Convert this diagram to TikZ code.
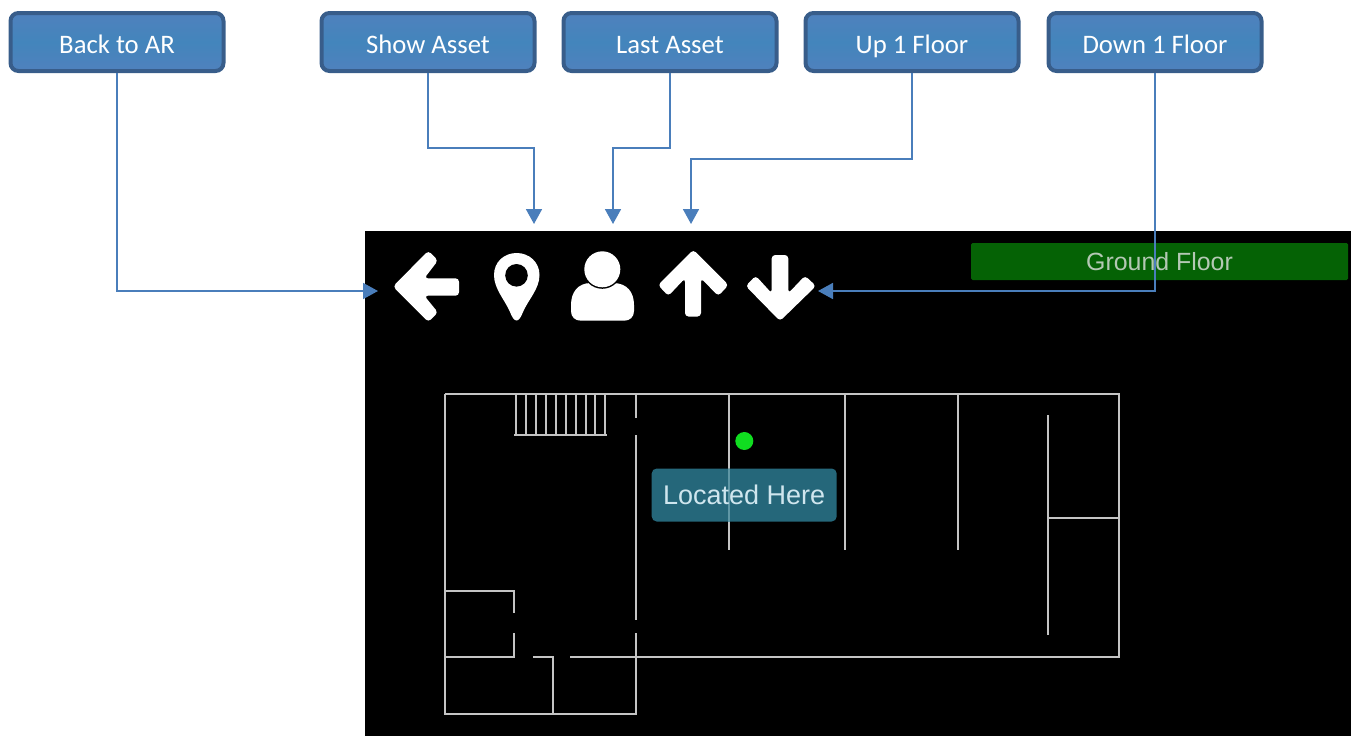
\documentclass[tikz,border=0pt]{standalone}
\usepackage{fontspec}
\setmainfont{Carlito}
\newfontfamily\arialish{Liberation Sans}
\usetikzlibrary{arrows.meta}
\definecolor{btnborder}{HTML}{385D8A}
\definecolor{btnedge}{HTML}{4F81BD}
\definecolor{btnmid}{HTML}{4385BC}
\definecolor{connblue}{HTML}{4A7EBB}
\definecolor{walls}{HTML}{C4C4C4}
\definecolor{floorgreen}{HTML}{056205}
\definecolor{floortext}{HTML}{B4C8B4}
\definecolor{teal}{HTML}{25677A}
\definecolor{tealwall}{HTML}{5F97A6}
\definecolor{teallabel}{HTML}{CFE6EE}
\definecolor{dot}{HTML}{10DD20}
\tikzset{
  btn/.style={draw=btnborder,line width=4pt,rounded corners=8pt,top color=btnedge,bottom color=btnedge,middle color=btnmid,
    minimum width=213pt,minimum height=58pt,inner sep=0pt,text=white,text height=24pt,text depth=2pt,font=\fontsize{26.7}{30}\selectfont},
  conn/.style={draw=connblue,line width=1.8pt,-{Triangle[length=15pt,width=16pt]}},
  wall/.style={draw=walls,line width=1.9pt},
  icon/.style={fill=white,rounded corners=3.5pt},
}
\begin{document}
\begin{tikzpicture}[x=1pt,y=-1pt]
\useasboundingbox (0,0) rectangle (1351,736);
% screenshot
\fill[black] (365,231) rectangle (1351,736);
\node[fill=floorgreen,rounded corners=1.5pt,minimum width=377pt,minimum height=37pt,inner sep=0pt,text=floortext,font=\arialish\fontsize{24.9}{28}\selectfont] (floor) at (1159.5,261.5) {Ground Floor};
% icons
\fill[icon] (393,286.5) -- (428.3,250.7) -- (438,260.5) -- (424.3,278.3) -- (459,278.3) -- (459,295.7) -- (424.3,295.7) -- (438,312.5) -- (428.3,322) -- cycle;
\fill[white] (516.7,320.5) .. controls (514,320.5) and (512,317) .. (510,312) .. controls (505,300) and (494,289) .. (494,275) .. controls (494,262) and (504,253) .. (516.7,253) .. controls (529,253) and (539.5,262) .. (539.5,275) .. controls (539.5,289) and (528,300) .. (523,312) .. controls (521,317) and (519,320.5) .. (516.7,320.5) -- cycle;
\fill[black] (516.5,275.3) circle[radius=11.3pt];
\fill[white] (581,320.7) .. controls (575,320.7) and (571,317) .. (571,311) -- (571,305) .. controls (571,292) and (578,283.5) .. (590,283) -- (614,283) .. controls (627,283.5) and (634,292) .. (634,305) -- (634,311) .. controls (634,317) and (630,320.7) .. (624,320.7) -- cycle;
\fill[black] (602.3,269.3) circle[radius=19.5pt];
\fill[white] (602.3,269.3) circle[radius=18pt];
\fill[icon] (693.3,249.7) -- (728.5,285) -- (718.3,296) -- (701,278.3) -- (701,316.5) -- (685,316.5) -- (685,278.3) -- (668.3,296) -- (658,285) -- cycle;
\fill[icon] (780,321) -- (745.7,286) -- (755.7,275.7) -- (771.7,293.3) -- (771.7,255) -- (788.3,255) -- (788.3,293.3) -- (805,275.7) -- (816,286) -- cycle;
% floor plan
\draw[wall] (1119,518) -- (1048,518);
\draw[wall] (445,394) -- (1119,394) -- (1119,657) -- (570,657);
\draw[wall] (445,394) -- (445,714) -- (636,714) -- (636,633);
\draw[wall] (445,657) -- (514,657) -- (514,633);
\draw[wall] (445,591) -- (514,591) -- (514,613);
\draw[wall] (533,657) -- (553,657) -- (553,714);
\draw[wall] (636,394) -- (636,418);
\draw[wall] (636,435) -- (636,620);
\draw[wall] (514,435) -- (607,435);
\foreach \sx in {516,526,536,546,556,566,576,586,595,605}
  \draw[wall] (\sx,394) -- (\sx,435);
\draw[wall] (729,394) -- (729,550);
\draw[wall] (845,394) -- (845,550);
\draw[wall] (958,394) -- (958,550);
\draw[wall] (1048,415) -- (1048,635);
\fill[dot] (744.3,441) circle[radius=9pt];
\node[fill=teal,rounded corners=5pt,minimum width=185pt,minimum height=53pt,inner sep=0pt] (here) at (744.2,495) {};
\draw[tealwall,line width=1.9pt] (729,468.5) -- (729,521.5);
\node[text=teallabel,inner sep=0pt,font=\arialish\fontsize{27}{30}\selectfont] (herelabel) at (744.2,495) {Located Here};
% buttons
\node[btn] (back) at (117,42) {Back to AR};
\node[btn] (show) at (428,42) {Show Asset};
\node[btn] (last) at (670,42) {Last Asset};
\node[btn] (up) at (912,42) {Up 1 Floor};
\node[btn] (down) at (1155,42) {Down 1 Floor};
% connector ends
\coordinate (backtip) at (378,291);
\coordinate (showbend) at (534,148);
\coordinate (showtip) at (534,224);
\coordinate (lastbend) at (613,148);
\coordinate (lasttip) at (613,224);
\coordinate (upbend) at (691,159);
\coordinate (uptip) at (691,224);
\coordinate (downtip) at (818,291);
\draw[conn] (back.south) |- (backtip);
\draw[conn] (show.south) |- (showbend) -- (showtip);
\draw[conn] (last.south) |- (lastbend) -- (lasttip);
\draw[conn] (up.south) |- (upbend) -- (uptip);
\draw[conn] (down.south) |- (downtip);
\end{tikzpicture}
\end{document}
